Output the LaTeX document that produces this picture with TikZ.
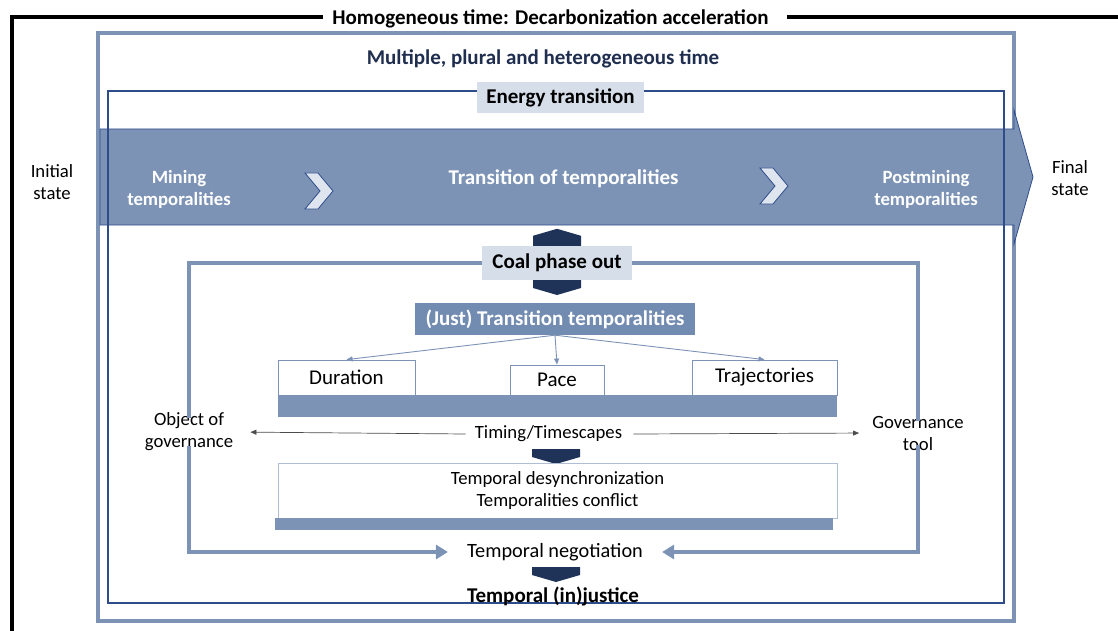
\documentclass[tikz,border=0pt]{standalone}
\usepackage{fontspec}
\setmainfont{Carlito}
\usetikzlibrary{arrows.meta}

\definecolor{steel}{HTML}{7C93B6}
\definecolor{steeldark}{HTML}{728BB0}
\definecolor{paleblue}{HTML}{D6DEE9}
\definecolor{navy}{HTML}{1F3358}
\definecolor{titlenavy}{HTML}{1F2D4F}
\definecolor{edgeblue}{HTML}{2E4C8A}
\definecolor{chevfill}{HTML}{DFE5EE}

\tikzset{
  txt/.style={font=\fontsize{18.7}{22}\selectfont, align=center, inner sep=1pt},
  head/.style={txt, font=\fontsize{21}{24}\selectfont\bfseries},
  bandtxt/.style={txt, font=\fontsize{18.7}{22}\selectfont\bfseries, text=white},
  tag/.style={head, fill=paleblue, inner sep=0pt},
  pillar/.style={draw=steel, fill=white, line width=0.8pt, txt, font=\fontsize{21}{24}\selectfont, inner sep=0pt},
  loopline/.style={draw=steel, line width=3.8pt},
  loophead/.style={-{Triangle[width=14pt,length=12pt]}},
  fine/.style={draw=steel, line width=0.9pt, -{Triangle[width=5pt,length=6pt]}},
  timeline/.style={draw=black!70, line width=0.7pt, -{Triangle[width=5pt,length=6pt]}},
}
\newcommand\capdown[1]{\fill[navy] (#1) -- ++(48,0) -- ++(0,8) -- ++(-24,7) -- ++(-24,-7) -- cycle;}
\newcommand\chev[1]{\draw[fill=chevfill, draw=edgeblue, line width=0.8pt] (#1) -- ++(13,0) -- ++(15,18) -- ++(-15,18) -- ++(-13,0) -- ++(15,-18) -- cycle;}

\begin{document}
\begin{tikzpicture}[x=1pt,y=-1pt]
  \useasboundingbox (0,0) rectangle (1118,631);

  % homogeneous time frame
  \node[head, inner sep=0pt] (homog) at (550.5,18.5) {Homogeneous time: Decarbonization acceleration};
  \coordinate (hleft) at ([xshift=-9pt]homog.west |- 0,17);
  \coordinate (hright) at ([xshift=18pt]homog.east |- 0,17);
  \draw[line width=4pt] (12,631) -- (12,17) -- (hleft);
  \draw[line width=4pt] (hright) -- (1118,17);

  \node[txt] (initial) at (52,182) {Initial\\state};
  \node[txt] (final) at (1070,178) {Final\\state};

  % multiple time frame
  \draw[steel, line width=4.5pt] (98,33) rectangle (1014,621);
  \node[head, text=titlenavy] (plural) at (543,58.5) {Multiple, plural and heterogeneous time};

  % transition band
  \draw[fill=steel, draw=edgeblue, line width=0.8pt] (100,129) -- (1014,129) -- (1014,110)
    -- (1033,177) -- (1014,244) -- (1014,225) -- (100,225) -- cycle;
  \draw[edgeblue, line width=1.2pt] (108,91) rectangle (1004,603);
  \node[tag, minimum width=167, minimum height=31] (energy) at (560.5,97.5) {Energy transition};

  \node[bandtxt] (mining) at (179,189) {Mining\\temporalities};
  \node[bandtxt, font=\fontsize{21}{24}\selectfont\bfseries] (transit) at (563.5,179) {Transition of temporalities};
  \node[bandtxt] (postmining) at (926,189) {Postmining\\temporalities};
  \chev{305,173}
  \chev{760,168}

  % coal phase out
  \node[tag, minimum width=150, minimum height=34] (coal) at (557,263) {Coal phase out};
  \fill[navy] ([xshift=-24]coal.north) -- ++(0,-10) -- ++(24,-7) -- ++(24,7) -- ++(0,10) -- cycle;
  \capdown{533,280}

  \node[bandtxt, font=\fontsize{21}{24}\selectfont\bfseries, fill=steeldark, minimum width=280, minimum height=32, inner sep=0pt] (just) at (555,319) {(Just) Transition temporalities};

  \node[pillar, minimum width=137, minimum height=35] (dur) at (346.5,377.5) {Duration};
  \node[pillar, minimum width=94, minimum height=30] (pace) at (557,380) {Pace};
  \node[pillar, minimum width=145, minimum height=35] (traj) at (764.5,377.5) {Trajectories};
  \fill[steel] (278,395) rectangle (837,417);
  \draw[fine] (just.south) -- (dur.north);
  \draw[fine] (just.south) -- (pace.north);
  \draw[fine] (just.south) -- (traj.north);

  % governance loop
  \node[txt] (objgov) at (189,432) {Object of\\governance};
  \node[txt] (govtool) at (918,433) {Governance\\tool};
  \node[txt] (timing) at (548.5,434) {Timing/Timescapes};
  \draw[timeline, shorten >=16pt] ([xshift=-8pt]timing.west) -- (objgov.east);
  \draw[timeline, shorten >=12pt] ([xshift=10pt]timing.east) -- (govtool.west);

  \capdown{532,449}
  \node[pillar, draw=steel!60, minimum width=559, minimum height=55, font=\fontsize{18.7}{22}\selectfont] (desync) at (557.5,490.5)
    {Temporal desynchronization\\Temporalities conflict};
  \fill[steel] (275,518) rectangle (833,530);

  \node[txt, font=\fontsize{20.3}{23}\selectfont] (nego) at (555,552) {Temporal negotiation};
  \capdown{532,567}
  \node[head, inner sep=0pt] (injust) at (553,596) {Temporal (in)justice};

  \draw[loopline] (coal.west) -| ([yshift=-6pt]objgov.north);
  \draw[loopline] (coal.east) -| ([yshift=-6pt]govtool.north);
  \draw[loopline, loophead] ([yshift=6pt]objgov.south) |- ([xshift=-18pt]nego.west);
  \draw[loopline, loophead] ([yshift=6pt]govtool.south) |- ([xshift=18pt]nego.east);
\end{tikzpicture}
\end{document}
